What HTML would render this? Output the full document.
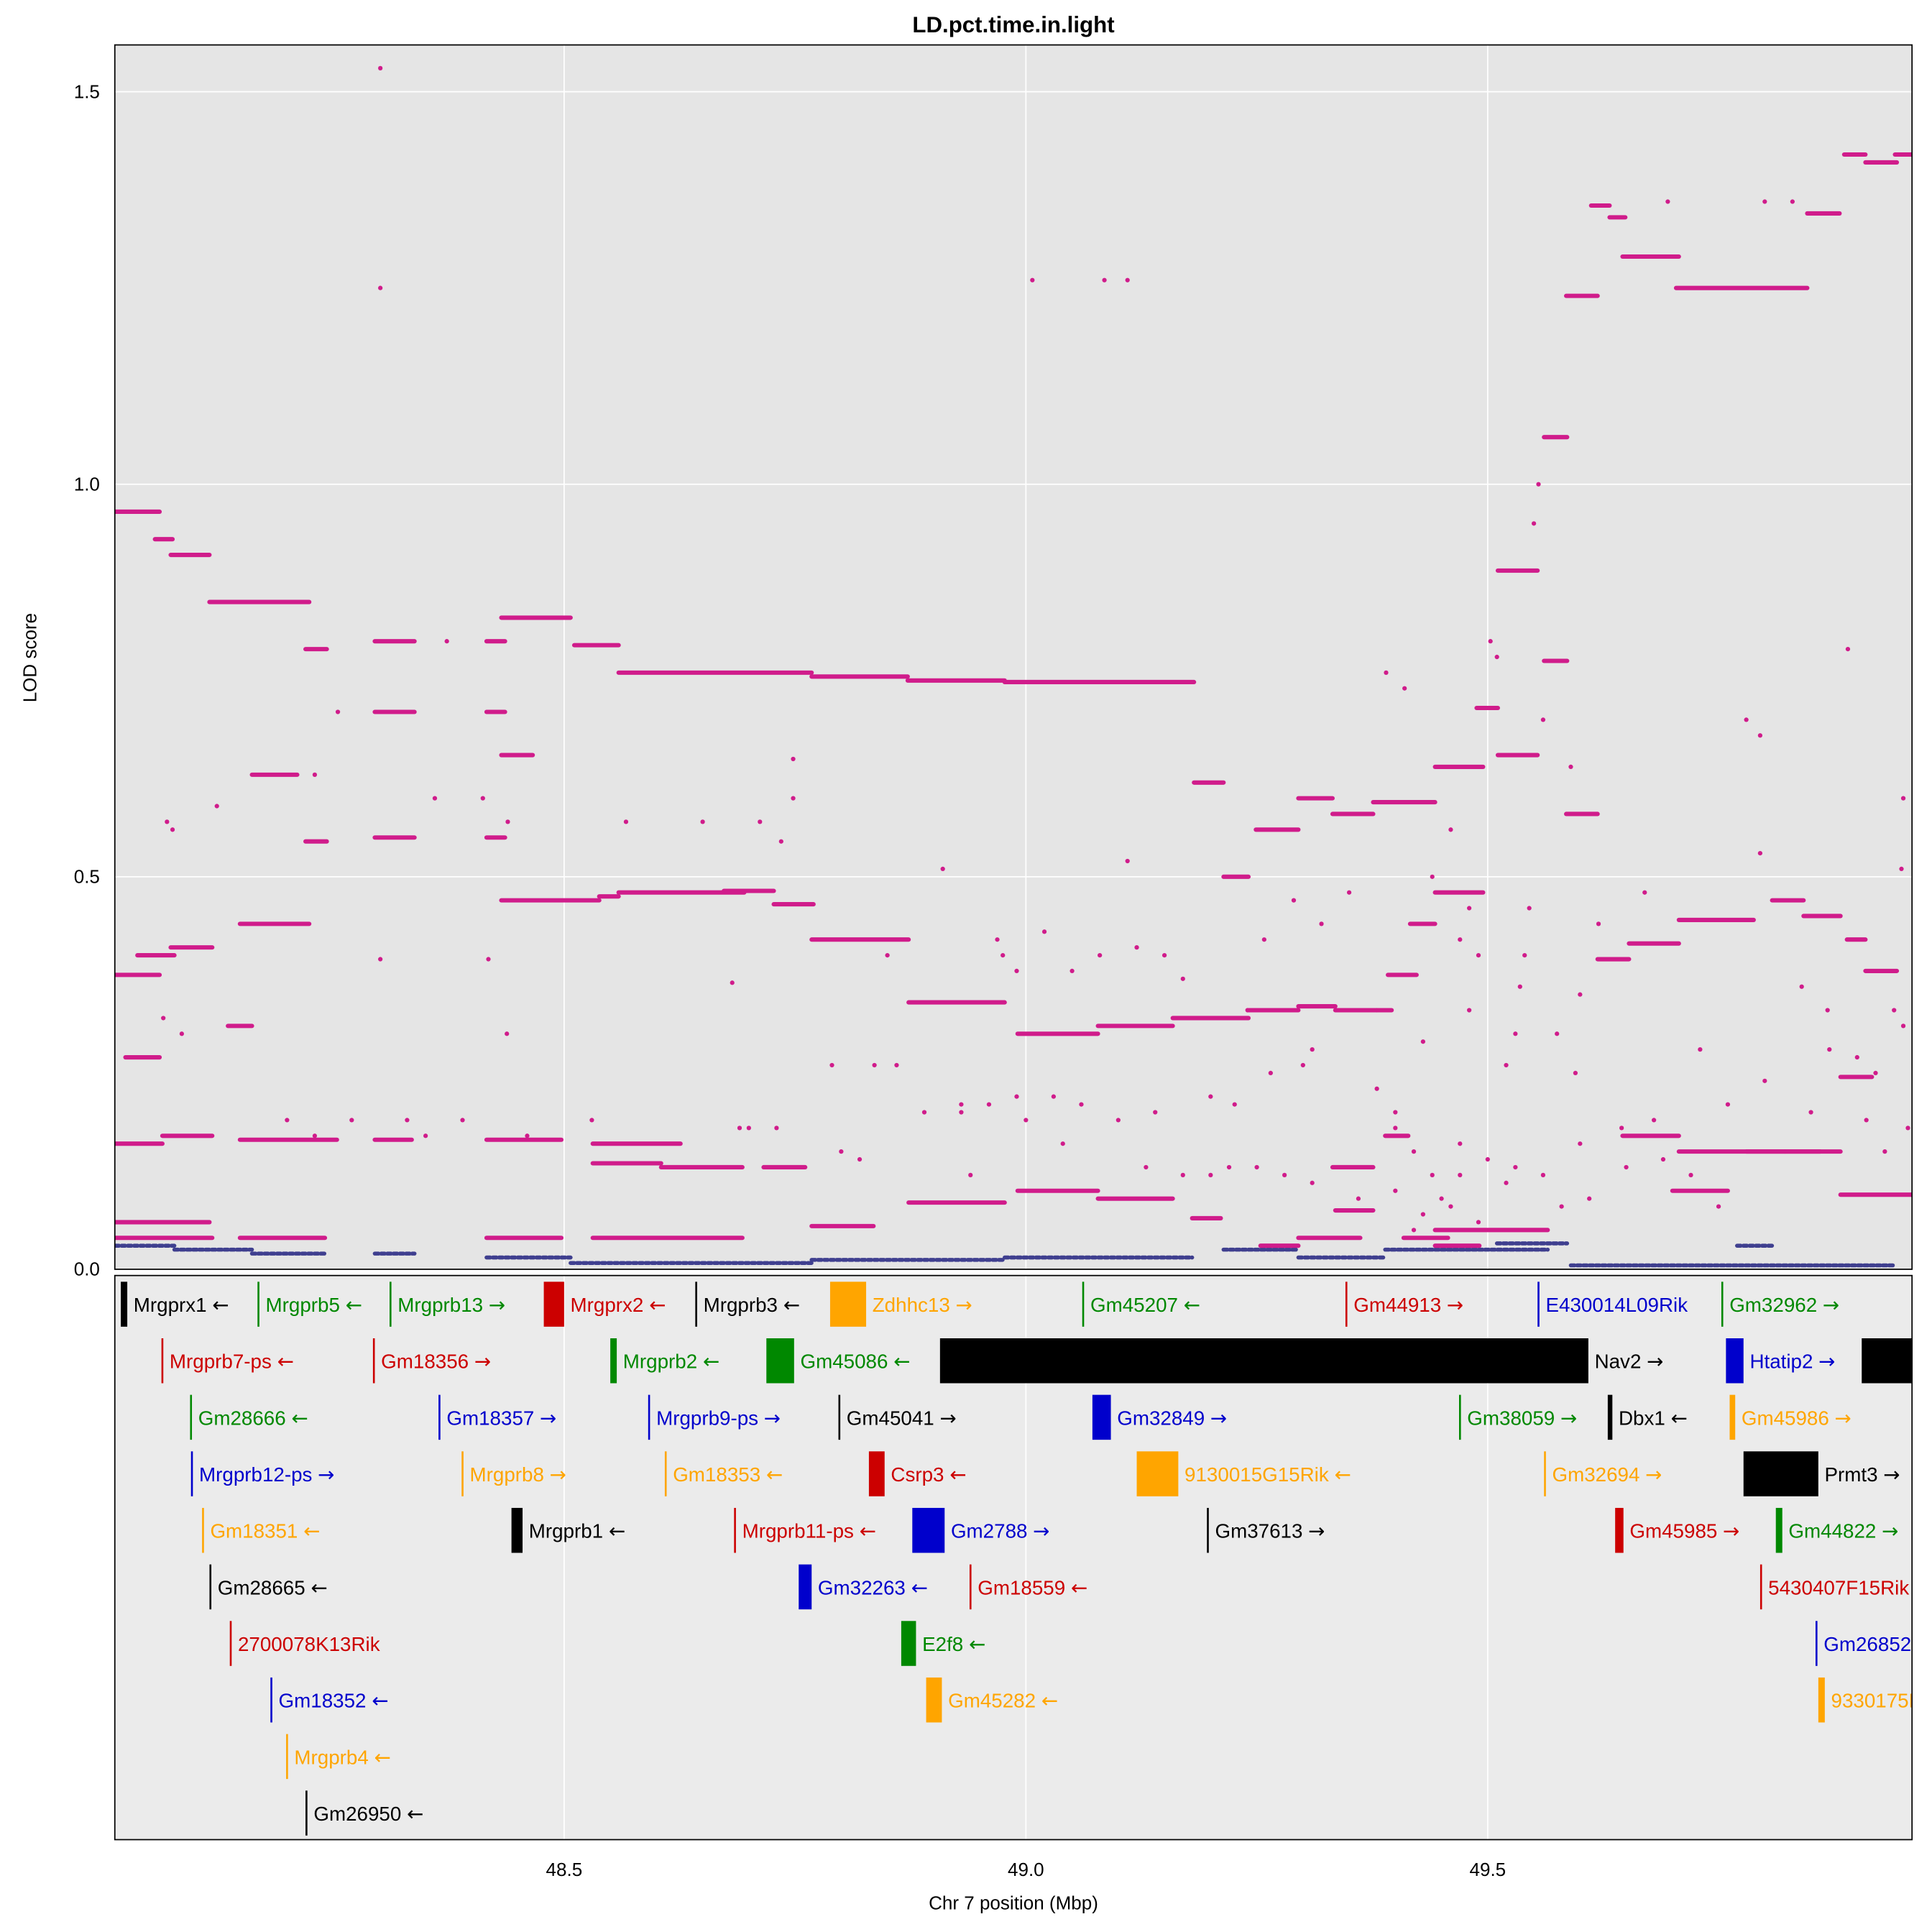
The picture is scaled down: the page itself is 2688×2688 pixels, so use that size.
<!DOCTYPE html>
<html><head><meta charset="utf-8"><style>
html,body{margin:0;padding:0;background:#fff}
svg{display:block}
text{font-family:"Liberation Sans",sans-serif}
.arr{font-family:"DejaVu Sans",sans-serif}
</style></head><body>
<svg id="chart" width="2688" height="2688" viewBox="0 0 1548 1548" xmlns="http://www.w3.org/2000/svg">
<rect x="0" y="0" width="1548" height="1548" fill="#fff"/>
<text x="812" y="26" text-anchor="middle" font-size="18" font-weight="bold">LD.pct.time.in.light</text>
<rect x="92" y="36" width="1440" height="981" fill="#e5e5e5"/>
<rect x="92" y="1022" width="1440" height="452" fill="#ebebeb"/>
<g id="grid"></g>
<g id="lodg"></g>
<g id="genes"></g>
<rect x="92" y="36" width="1440" height="981" fill="none" stroke="#000" stroke-width="1"/>
<rect x="92" y="1022" width="1440" height="452" fill="none" stroke="#000" stroke-width="1"/>
<g id="axes"></g>
<text x="812" y="1530" text-anchor="middle" font-size="15">Chr 7 position (Mbp)</text>
<text x="29" y="527" text-anchor="middle" font-size="15" transform="rotate(-90 29 527)">LOD score</text>
</svg>
<script>
const xTicks=[48.5,49.0,49.5];
const xTickLabels=["48.5","49.0","49.5"];
const yTicks=[0,0.5,1.0,1.5];
const yTickLabels=["0.0","0.5","1.0","1.5"];
// pink series segments: [startMbp,endMbp,lod]
const pinkSegs=[
[48.014,48.062,0.965],[48.057,48.076,0.93],[48.074,48.116,0.91],[48.116,48.224,0.85],[48.220,48.243,0.79],
[48.295,48.338,0.80],[48.295,48.338,0.71],[48.295,48.338,0.55],[48.416,48.436,0.80],[48.416,48.436,0.71],[48.416,48.436,0.55],
[48.432,48.466,0.655],[48.432,48.507,0.83],[48.511,48.559,0.795],[48.559,48.768,0.76],[48.768,48.872,0.755],
[48.872,48.977,0.75],[48.977,49.182,0.748],[49.182,49.214,0.62],[49.214,49.241,0.50],[49.249,49.295,0.56],
[49.295,49.332,0.60],[49.332,49.376,0.58],[49.376,49.443,0.595],[49.443,49.495,0.64],[49.488,49.511,0.715],
[49.511,49.554,0.89],[49.511,49.554,0.655],[49.561,49.586,0.775],[49.561,49.586,1.06],[49.585,49.619,1.24],
[49.612,49.632,1.355],[49.632,49.649,1.34],[49.646,49.707,1.29],[49.704,49.846,1.25],[49.846,49.881,1.345],
[49.886,49.909,1.42],[49.909,49.943,1.41],[49.941,49.959,1.42],[49.585,49.619,0.58],[49.619,49.653,0.395],
[49.653,49.707,0.415],[49.707,49.788,0.445],[49.808,49.842,0.47],[49.842,49.882,0.45],[49.889,49.909,0.42],
[49.909,49.943,0.38],
[48.014,48.062,0.375],[48.025,48.062,0.27],[48.038,48.078,0.40],[48.074,48.119,0.41],[48.149,48.224,0.44],
[48.136,48.162,0.31],[48.162,48.211,0.63],[48.220,48.243,0.545],[48.432,48.538,0.47],[48.538,48.559,0.475],
[48.559,48.695,0.48],[48.673,48.727,0.482],[48.727,48.770,0.465],[48.768,48.873,0.42],[48.873,48.977,0.34],
[48.991,49.078,0.30],[49.078,49.159,0.31],[49.159,49.241,0.32],[49.241,49.295,0.33],[49.295,49.335,0.335],
[49.335,49.396,0.33],[49.392,49.423,0.375],[49.416,49.443,0.44],[49.443,49.495,0.48],
[48.014,48.065,0.16],[48.065,48.119,0.17],[48.149,48.254,0.165],[48.295,48.335,0.165],[48.416,48.497,0.165],
[48.531,48.626,0.16],[48.531,48.605,0.135],[48.605,48.693,0.13],[48.716,48.761,0.13],[48.768,48.835,0.055],
[48.873,48.977,0.085],[48.991,49.078,0.10],[49.078,49.159,0.09],[49.180,49.211,0.065],[49.254,49.295,0.03],
[49.295,49.362,0.04],[49.335,49.376,0.075],[49.332,49.376,0.13],[49.389,49.414,0.17],[48.014,48.119,0.04],
[48.014,48.116,0.06],[48.149,48.241,0.04],[48.416,48.497,0.04],[48.531,48.693,0.04],[49.409,49.457,0.04],
[49.443,49.491,0.03],[49.443,49.565,0.05],[49.646,49.707,0.17],[49.707,49.822,0.15],[49.822,49.882,0.15],
[49.882,49.916,0.245],[49.882,49.959,0.095],[49.700,49.760,0.1],[49.780,49.860,0.15]
];
// scattered pink points: [mbp,lod]
const pinkPts=[
[48.301,1.53],[48.301,1.25],[49.007,1.26],[49.085,1.26],[49.110,1.26],[48.301,0.395],[48.418,0.395],[48.438,0.30],
[48.124,0.59],[48.070,0.57],[48.076,0.56],[48.066,0.32],[48.086,0.30],[48.230,0.63],[48.255,0.71],[48.360,0.60],
[48.373,0.80],[48.412,0.60],[48.439,0.57],[48.567,0.57],[48.650,0.57],[48.682,0.365],[48.712,0.57],[48.735,0.545],
[48.748,0.65],[48.748,0.60],[48.790,0.26],[48.836,0.26],[48.850,0.40],[48.860,0.26],[48.890,0.20],[48.910,0.51],
[48.930,0.21],[48.969,0.42],[48.975,0.40],[48.990,0.38],[49.020,0.43],[49.050,0.38],[49.080,0.40],[49.110,0.52],
[49.120,0.41],[49.150,0.40],[49.170,0.37],[49.200,0.22],[49.226,0.21],[49.240,0.33],[49.258,0.42],[49.265,0.25],
[49.290,0.47],[49.310,0.28],[49.320,0.44],[49.390,0.76],[49.410,0.74],[49.460,0.56],[49.480,0.33],[49.490,0.40],
[49.503,0.80],[49.510,0.78],[49.535,0.36],[49.540,0.40],[49.545,0.46],[49.550,0.95],[49.555,1.0],[49.560,0.70],
[49.575,0.30],[49.590,0.64],[49.595,0.25],[49.600,0.16],[49.620,0.44],[49.645,0.18],[49.670,0.48],[49.695,1.36],
[49.780,0.70],[49.795,0.68],[49.795,0.53],[49.800,1.36],[49.830,1.36],[49.840,0.36],[49.870,0.28],[49.890,0.79],
[49.900,0.27],[49.920,0.25],[49.948,0.51],[49.950,0.60],[49.955,0.18],[49.950,0.31],[49.940,0.33],[49.868,0.33],
[49.760,0.21],[49.730,0.28],[49.680,0.19],[49.520,0.11],[49.470,0.12],[49.450,0.09],[49.430,0.07],[49.360,0.09],
[49.200,0.12],[49.000,0.19],[49.040,0.16],[48.940,0.12],[48.820,0.14],[48.800,0.15],[48.700,0.18],
[48.690,0.18],[48.730,0.18],[48.200,0.19],[48.230,0.17],[48.270,0.19],[48.330,0.19],[48.350,0.17],[48.390,0.19],
[48.460,0.17],[48.530,0.19],[48.930,0.20],[48.960,0.21],[48.990,0.22],[49.030,0.22],[49.060,0.21],[49.100,0.19],
[49.140,0.20],[49.130,0.13],[49.170,0.12],[49.220,0.13],[49.250,0.13],[49.280,0.12],[49.310,0.11],[49.400,0.20],
[49.420,0.15],[49.440,0.12],[49.470,0.16],[49.500,0.14],[49.530,0.13],[49.560,0.12],[49.580,0.08],[49.610,0.09],
[49.650,0.13],[49.690,0.14],[49.720,0.12],[49.750,0.08],[49.800,0.24],[49.850,0.20],[49.910,0.19],[49.930,0.15],
[49.400,0.10],[49.460,0.08],[49.490,0.06],[49.420,0.05],[49.380,0.23],[49.400,0.18],[49.520,0.26],[49.530,0.30],
[49.600,0.35],[49.480,0.46],[49.470,0.42],[49.440,0.50],[49.430,0.29],[49.380,0.33],[49.350,0.48],[49.300,0.26]
];
// navy series segments
const navySegs=[
[48.014,48.078,0.03],[48.078,48.162,0.025],[48.162,48.241,0.02],[48.295,48.338,0.02],[48.416,48.507,0.015],
[48.507,48.768,0.008],[48.768,48.977,0.012],[48.977,49.180,0.015],[49.214,49.295,0.025],[49.295,49.389,0.015],
[49.389,49.565,0.025],[49.510,49.586,0.033],[49.590,49.940,0.005],[49.770,49.808,0.03]
];
// genes: [start,end,row,color,label,arrow]
const genes=[
[48.020,48.027,1,"#000","Mrgprx1","←"],[48.168,48.169,1,"#008800","Mrgprb5","←"],[48.311,48.312,1,"#008800","Mrgprb13","→"],
[48.478,48.500,1,"#cc0000","Mrgprx2","←"],[48.642,48.643,1,"#000","Mrgprb3","←"],[48.788,48.827,1,"#ffa500","Zdhhc13","→"],
[49.061,49.062,1,"#008800","Gm45207","←"],[49.346,49.347,1,"#cc0000","Gm44913","→"],[49.554,49.556,1,"#0000cc","E430014L09Rik",""],
[49.753,49.755,1,"#008800","Gm32962","→"],
[48.064,48.065,2,"#cc0000","Mrgprb7-ps","←"],[48.293,48.294,2,"#cc0000","Gm18356","→"],[48.550,48.557,2,"#008800","Mrgprb2","←"],
[48.719,48.749,2,"#008800","Gm45086","←"],[48.907,49.609,2,"#000","Nav2","→"],[49.758,49.777,2,"#0000cc","Htatip2","→"],
[49.905,49.975,2,"#000","",""],
[48.095,48.096,3,"#008800","Gm28666","←"],[48.364,48.365,3,"#0000cc","Gm18357","→"],[48.591,48.592,3,"#0000cc","Mrgprb9-ps","→"],
[48.797,48.799,3,"#000","Gm45041","→"],[49.072,49.092,3,"#0000cc","Gm32849","→"],[49.469,49.470,3,"#008800","Gm38059","→"],
[49.630,49.635,3,"#000","Dbx1","←"],[49.762,49.768,3,"#ffa500","Gm45986","→"],
[48.096,48.097,4,"#0000cc","Mrgprb12-ps","→"],[48.389,48.390,4,"#ffa500","Mrgprb8","→"],[48.609,48.610,4,"#ffa500","Gm18353","←"],
[48.830,48.847,4,"#cc0000","Csrp3","←"],[49.120,49.165,4,"#ffa500","9130015G15Rik","←"],[49.561,49.562,4,"#ffa500","Gm32694","→"],
[49.777,49.858,4,"#000","Prmt3","→"],
[48.108,48.109,5,"#ffa500","Gm18351","←"],[48.443,48.455,5,"#000","Mrgprb1","←"],[48.684,48.685,5,"#cc0000","Mrgprb11-ps","←"],
[48.877,48.912,5,"#0000cc","Gm2788","→"],[49.196,49.198,5,"#000","Gm37613","→"],[49.638,49.647,5,"#cc0000","Gm45985","→"],
[49.812,49.819,5,"#008800","Gm44822","→"],
[48.116,48.117,6,"#000","Gm28665","←"],[48.754,48.768,6,"#0000cc","Gm32263","←"],[48.939,48.940,6,"#cc0000","Gm18559","←"],
[49.795,49.796,6,"#cc0000","5430407F15Rik",""],
[48.138,48.139,7,"#cc0000","2700078K13Rik",""],[48.865,48.881,7,"#008800","E2f8","←"],[49.855,49.856,7,"#0000cc","Gm26852",""],
[48.182,48.183,8,"#0000cc","Gm18352","←"],[48.892,48.909,8,"#ffa500","Gm45282","←"],[49.858,49.865,8,"#ffa500","9330175E14Rik",""],
[48.199,48.200,9,"#ffa500","Mrgprb4","←"],[48.220,48.221,10,"#000","Gm26950","←"]
];
const NS="http://www.w3.org/2000/svg";
function X(m){return 452+(m-48.5)*740;}
function Y(v){return 1017-v*629;}
function rowY(r){return 1045+(r-1)*45.3;}
function mk(tag,attrs,parent){const e=document.createElementNS(NS,tag);for(const k in attrs)e.setAttribute(k,attrs[k]);parent.appendChild(e);return e;}
const grid=document.getElementById('grid'),lodg=document.getElementById('lodg'),gg=document.getElementById('genes'),axes=document.getElementById('axes');
xTicks.forEach((t,i)=>{
  const l=mk('line',{x1:X(t),x2:X(t),y1:36,y2:1017,stroke:'#fff','stroke-width':1},grid);
  
  
  const l2=mk('line',{x1:X(t),x2:X(t),y1:1022,y2:1474,stroke:'#fff','stroke-width':1},grid);
  
  
  const tx=mk('text',{x:X(t),y:1503,'text-anchor':'middle','font-size':15},axes);
  tx.textContent=xTickLabels[i];
  
  
});
yTicks.forEach((t,i)=>{
  if(t>0){const l=mk('line',{x1:92,x2:1532,y1:Y(t),y2:Y(t),stroke:'#fff','stroke-width':1},grid);
  
  }
  const tx=mk('text',{x:80,y:Y(t)+5,'text-anchor':'end','font-size':15},axes);
  tx.textContent=yTickLabels[i];
  
  
});
const clip=mk('clipPath',{id:'pc'},document.getElementById('chart'));
mk('rect',{x:92,y:36,width:1440,height:981},clip);
lodg.setAttribute('clip-path','url(#pc)');
navySegs.forEach(s=>{
  const l=mk('line',{x1:X(s[0]),x2:X(s[1]),y1:Y(s[2]),y2:Y(s[2]),stroke:'#3f3f8f','stroke-width':3.2,'stroke-linecap':'round','stroke-dasharray':'3 2'},lodg);
  
  
});
pinkSegs.forEach(s=>{
  const l=mk('line',{x1:X(s[0]),x2:X(s[1]),y1:Y(s[2]),y2:Y(s[2]),stroke:'#d01c8b','stroke-width':3.5,'stroke-linecap':'round'},lodg);
  
  
});
pinkPts.forEach(p=>{
  const c=mk('circle',{cx:X(p[0]),cy:Y(p[1]),r:1.8,fill:'#d01c8b'},lodg);
  
  
});
const clip2=mk('clipPath',{id:'gc'},document.getElementById('chart'));
mk('rect',{x:92,y:1022,width:1440,height:452},clip2);
gg.setAttribute('clip-path','url(#gc)');
genes.forEach(g=>{
  const x1=X(g[0]),x2=Math.max(X(g[1]),x1+1.5),y=rowY(g[2]);
  const r=mk('rect',{x:x1,y:y-18,width:x2-x1,height:36,fill:g[3]},gg);
  
  
  if(g[4]){const t=mk('text',{x:x2+5,y:y+6,'font-size':16,fill:g[3]},gg);
  t.textContent=g[4]+(g[5]?' ':'');
  if(g[5]){const a=mk('tspan',{class:'arr'},t);a.textContent=g[5];}
  
  }
});
</script>
</body></html>
